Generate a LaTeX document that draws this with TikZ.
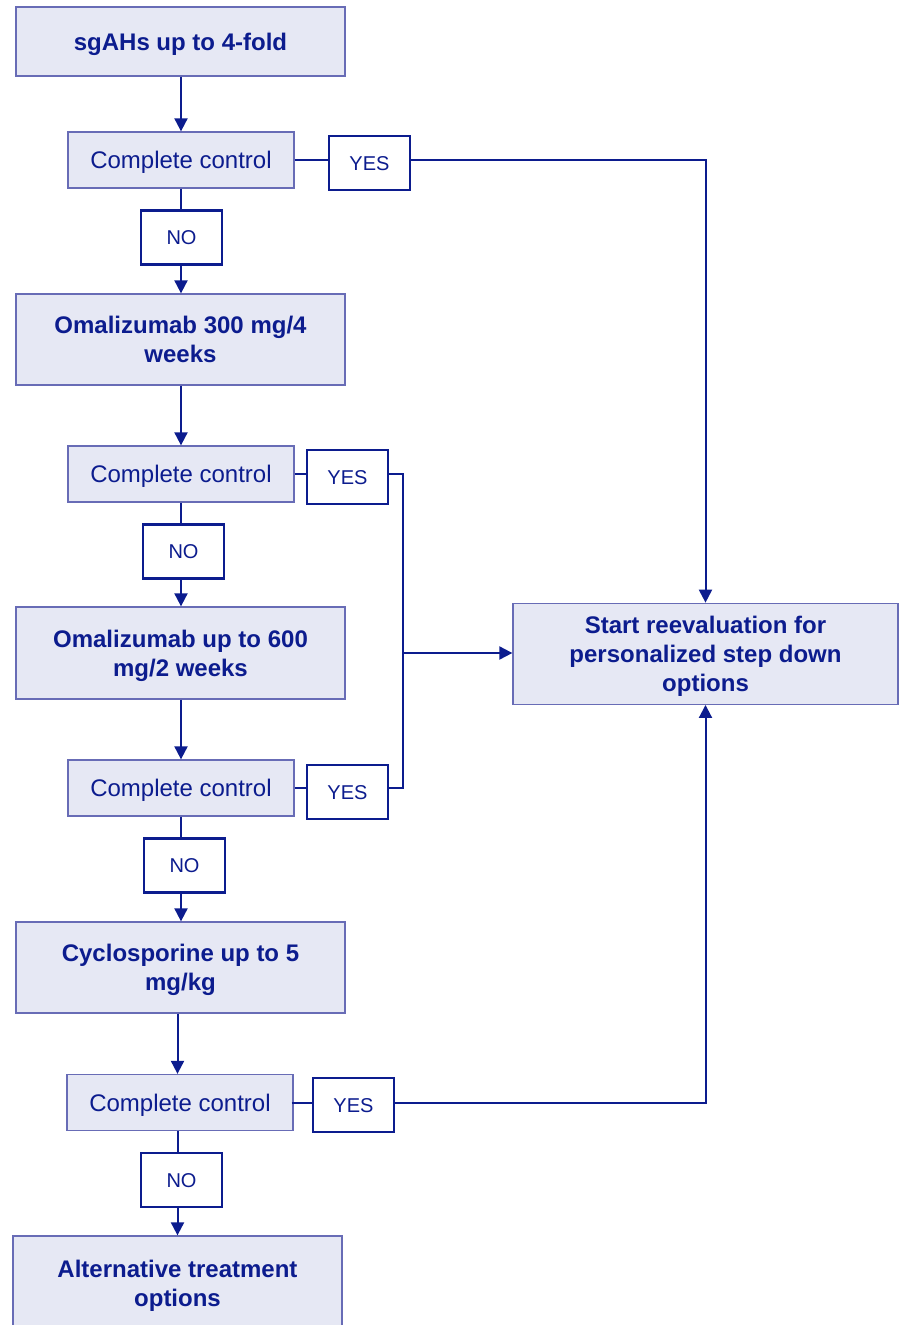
\documentclass[tikz,border=0pt]{standalone}
\usepackage{fontspec}
\setmainfont{Liberation Sans}
\usetikzlibrary{arrows.meta}
\definecolor{navy}{RGB}{12,28,142}
\definecolor{boxfill}{RGB}{230,232,244}
\definecolor{boxline}{RGB}{104,108,182}
\newcommand\mltext[1]{\begin{tabular}{@{}c@{}}\rule{0pt}{25.9pt}#1\end{tabular}}
\tikzset{
  capcenter/.style={execute at begin node={\rule{0pt}{#1}}, execute at end node={\rule[-6pt]{0pt}{0pt}}},
  mainbase/.style={draw=boxline, line width=1.3pt, fill=boxfill, text=navy,
    font=\fontsize{24}{29}\selectfont\bfseries, inner sep=0pt},
  mainone/.style={mainbase, capcenter=23.2pt},
  mainmulti/.style={mainbase},
  ccbox/.style={draw=boxline, line width=1.3pt, fill=boxfill, text=navy,
    font=\fontsize{24}{29}\selectfont, inner sep=0pt, minimum width=226pt, minimum height=56pt,
    capcenter=23.2pt},
  ynbox/.style={draw=navy, line width=2.2pt, fill=white, text=navy,
    font=\fontsize{20}{24}\selectfont, inner sep=0pt, minimum width=81pt, minimum height=54pt,
    capcenter=20.3pt},
  ln/.style={draw=navy, line width=2pt},
  arr/.style={ln, -{Triangle[length=13pt,width=13pt]}},
}
\begin{document}
\begin{tikzpicture}[x=1pt,y=-1pt]
\clip (0,0) rectangle (899,1325);
\fill[white] (0,0) rectangle (899,1325);
% main boxes
\node[mainone, minimum width=329pt, minimum height=69pt] (b1) at (180.5,41.5) {sgAHs up to 4-fold};
\node[mainmulti, minimum width=329pt, minimum height=91pt] (om300) at (180.5,339.5) {\mltext{Omalizumab 300 mg/4\\weeks}};
\node[mainmulti, minimum width=329pt, minimum height=92pt] (om600) at (180.5,653) {\mltext{Omalizumab up to 600\\mg/2 weeks}};
\node[mainmulti, minimum width=329pt, minimum height=91pt] (cyc) at (180.5,967.5) {\mltext{Cyclosporine up to 5\\mg/kg}};
\node[mainmulti, minimum width=329pt, minimum height=94pt] (alt) at (177.5,1283) {\mltext{Alternative treatment\\options}};
\node[mainmulti, minimum width=385pt, minimum height=101pt] (start) at (705.5,653.8) {\mltext{Start reevaluation for\\personalized step down\\options}};
% complete control boxes
\node[ccbox] (cc1) at (181,160) {Complete control};
\node[ccbox] (cc2) at (181,474) {Complete control};
\node[ccbox] (cc3) at (181,788) {Complete control};
\node[ccbox] (cc4) at (180,1102.5) {Complete control};
% yes / no boxes
\node[ynbox] (yes1) at (369.5,163) {YES};
\node[ynbox] (yes2) at (347.5,477) {YES};
\node[ynbox] (yes3) at (347.5,792) {YES};
\node[ynbox] (yes4) at (353.5,1105) {YES};
\node[ynbox] (no1) at (181.5,237.5) {NO};
\node[ynbox] (no2) at (183.5,551.5) {NO};
\node[ynbox] (no3) at (184.5,865.5) {NO};
\node[ynbox] (no4) at (181.5,1180) {NO};
% bus coordinates
\coordinate (bt) at (403,474);
\coordinate (bm) at (403,653);
\coordinate (bb) at (403,788);
% vertical flow
\draw[arr] (b1.south -| cc1.north) -- (cc1.north);
\draw[ln] (cc1.south) -- (cc1.south |- no1.north);
\draw[arr] (no1.south -| cc1.south) -- (cc1.south |- om300.north);
\draw[arr] (om300.south -| cc2.north) -- (cc2.north);
\draw[ln] (cc2.south) -- (cc2.south |- no2.north);
\draw[arr] (no2.south -| cc2.south) -- (cc2.south |- om600.north);
\draw[arr] (om600.south -| cc3.north) -- (cc3.north);
\draw[ln] (cc3.south) -- (cc3.south |- no3.north);
\draw[arr] (no3.south -| cc3.south) -- (cc3.south |- cyc.north);
\draw[arr] (cyc.south -| alt.north) -- (cc4.north -| alt.north);
\draw[ln] (cc4.south -| alt.north) -- (no4.north -| alt.north);
\draw[arr] (no4.south -| alt.north) -- (alt.north);
% yes branches
\draw[ln] (cc1.east) -- (yes1.west |- cc1.east);
\draw[arr] (yes1.east |- cc1.east) -| (start.north);
\draw[ln] (cc2.east) -- (yes2.west |- cc2.east);
\draw[ln] (cc3.east) -- (yes3.west |- cc3.east);
\draw[ln] (yes2.east |- cc2.east) -- (bt) -- (bb) -- (yes3.east |- cc3.east);
\draw[arr] (bm) -- (bm -| start.west);
\draw[ln] ([xshift=-2pt]cc4.east) -- (yes4.west |- cc4.east);
\draw[arr] (yes4.east |- cc4.east) -| (start.south);
\end{tikzpicture}
\end{document}
